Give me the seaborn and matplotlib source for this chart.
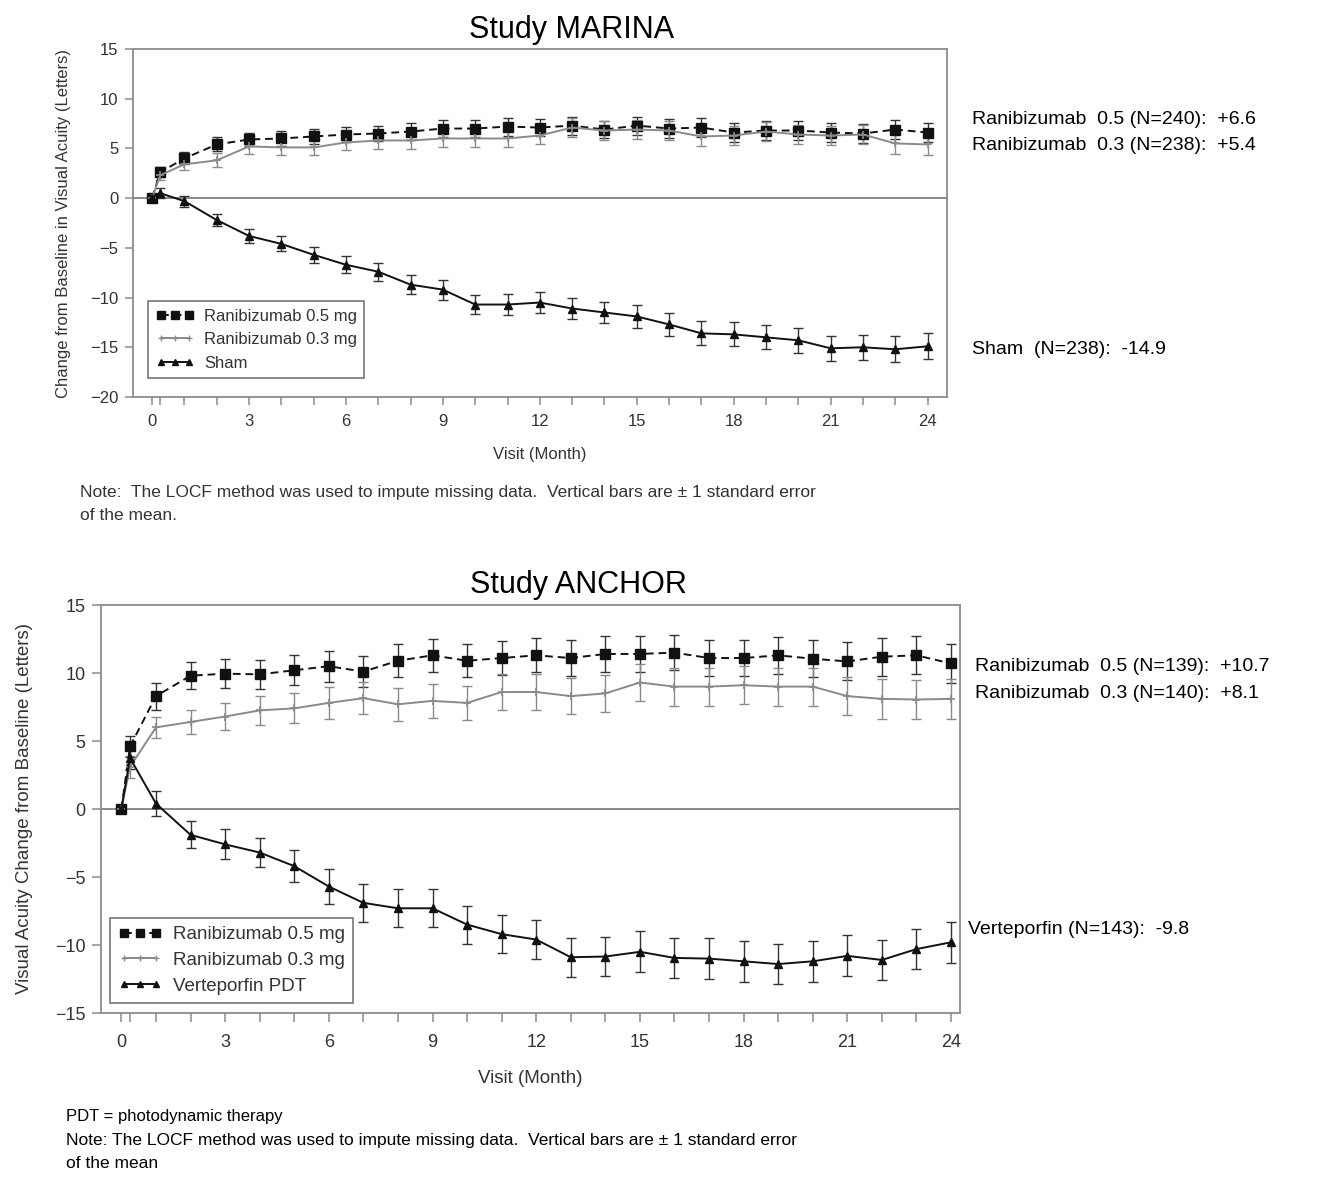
import matplotlib
matplotlib.use("Agg")
import matplotlib.pyplot as plt
import seaborn as sns
import pandas as pd
import numpy as np
from matplotlib.lines import Line2D

sns.set_style("white")
plt.rcParams['font.family'] = ['Liberation Sans', 'DejaVu Sans']

months = [0, 0.25, 1, 2, 3, 4, 5, 6, 7, 8, 9, 10, 11, 12, 13, 14, 15, 16, 17, 18, 19, 20, 21, 22, 23, 24]

# Study MARINA
marina_r05 = [0, 2.6, 4.0, 5.4, 5.9, 6.0, 6.2, 6.4, 6.5, 6.7, 7.0, 7.0, 7.2, 7.1, 7.3, 6.9, 7.3, 7.0, 7.1, 6.6, 6.8, 6.8, 6.6, 6.5, 6.9, 6.6]
marina_r05_se = [0, 0.5, 0.6, 0.7, 0.7, 0.75, 0.8, 0.8, 0.8, 0.85, 0.9, 0.9, 0.9, 0.9, 0.9, 0.9, 0.9, 0.95, 0.95, 0.95, 0.95, 1.0, 1.0, 1.0, 1.0, 1.0]
marina_r03 = [0, 2.3, 3.4, 3.8, 5.2, 5.1, 5.1, 5.6, 5.8, 5.8, 6.0, 6.0, 6.0, 6.3, 7.1, 6.8, 6.9, 6.8, 6.2, 6.3, 6.7, 6.4, 6.3, 6.4, 5.5, 5.4]
marina_r03_se = [0, 0.5, 0.6, 0.7, 0.75, 0.75, 0.8, 0.8, 0.85, 0.85, 0.9, 0.9, 0.9, 0.9, 0.95, 0.95, 0.95, 0.95, 1.0, 1.0, 1.0, 1.0, 1.0, 1.0, 1.05, 1.05]
marina_sham = [0, 0.5, -0.3, -2.2, -3.8, -4.6, -5.7, -6.7, -7.4, -8.7, -9.2, -10.7, -10.7, -10.5, -11.1, -11.5, -11.9, -12.7, -13.6, -13.7, -14.0, -14.3, -15.1, -15.0, -15.2, -14.9]
marina_sham_se = [0, 0.5, 0.55, 0.65, 0.7, 0.75, 0.8, 0.85, 0.9, 0.95, 1.0, 1.0, 1.05, 1.05, 1.1, 1.1, 1.15, 1.15, 1.2, 1.2, 1.2, 1.25, 1.25, 1.25, 1.3, 1.3]

# Study ANCHOR
anchor_r05 = [0, 4.6, 8.3, 9.8, 9.95, 9.9, 10.2, 10.5, 10.1, 10.9, 11.3, 10.9, 11.1, 11.3, 11.1, 11.4, 11.4, 11.5, 11.1, 11.1, 11.3, 11.05, 10.85, 11.2, 11.3, 10.7]
anchor_r05_se = [0, 0.8, 1.0, 1.0, 1.05, 1.05, 1.1, 1.15, 1.15, 1.2, 1.2, 1.2, 1.25, 1.25, 1.3, 1.3, 1.3, 1.3, 1.3, 1.35, 1.35, 1.35, 1.4, 1.4, 1.4, 1.4]
anchor_r03 = [0, 3.1, 6.0, 6.4, 6.8, 7.25, 7.4, 7.8, 8.15, 7.7, 7.95, 7.8, 8.6, 8.6, 8.3, 8.5, 9.3, 9.0, 9.0, 9.1, 9.0, 9.0, 8.3, 8.1, 8.05, 8.1]
anchor_r03_se = [0, 0.8, 0.8, 0.9, 1.0, 1.05, 1.1, 1.15, 1.2, 1.2, 1.25, 1.25, 1.3, 1.3, 1.35, 1.35, 1.35, 1.4, 1.4, 1.4, 1.4, 1.4, 1.4, 1.45, 1.45, 1.45]
anchor_vert = [0, 3.75, 0.4, -1.9, -2.6, -3.2, -4.2, -5.7, -6.9, -7.3, -7.3, -8.5, -9.2, -9.6, -10.9, -10.85, -10.5, -10.95, -11.0, -11.2, -11.4, -11.2, -10.8, -11.1, -10.3, -9.8]
anchor_vert_se = [0, 0.8, 0.9, 1.0, 1.1, 1.1, 1.2, 1.3, 1.4, 1.4, 1.4, 1.4, 1.4, 1.45, 1.45, 1.45, 1.5, 1.5, 1.5, 1.5, 1.5, 1.5, 1.5, 1.5, 1.5, 1.5]

marina_labels = ["Ranibizumab 0.5 mg", "Ranibizumab 0.3 mg", "Sham"]
anchor_labels = ["Ranibizumab 0.5 mg", "Ranibizumab 0.3 mg", "Verteporfin PDT"]
marina_notes = ["Ranibizumab  0.5 (N=240):  +6.6", "Ranibizumab  0.3 (N=238):  +5.4", "Sham  (N=238):  -14.9"]
anchor_notes = ["Ranibizumab  0.5 (N=139):  +10.7", "Ranibizumab  0.3 (N=140):  +8.1", "Verteporfin (N=143):  -9.8"]

W, H = 1322, 1179
fig = plt.figure(figsize=(W / 100, H / 100), dpi=100)

def px_axes(l, t, r, b):
    return fig.add_axes([l / W, 1 - b / H, (r - l) / W, (b - t) / H])

styles = [
    dict(color="#111111", ls=(0, (4, 2.5)), marker="s", ms=6.5, ecolor="#333333"),
    dict(color="#8a8a8a", ls="-", marker="+", ms=6, ecolor="#8a8a8a"),
    dict(color="#111111", ls="-", marker="^", ms=6, ecolor="#333333"),
]

def draw(ax, series, ses, labels, xmax, ylim, yticks, ylabel, title, title_xy, legend_anchor,
         fs_tick, fs_lab, fs_leg, ylabelpad, xlabelpad, ticklen, tickpad, leg_spacing):
    spine_c = "#8c8c8c"
    for s in ax.spines.values():
        s.set_color(spine_c)
        s.set_linewidth(1.3)
    ax.axhline(0, color="#777777", lw=1.2, zorder=1)
    handles = []
    for y, se, lab, st in zip(series, ses, labels, styles):
        df = pd.DataFrame({"month": months, "value": y})
        ax.errorbar(months, y, yerr=se, fmt="none", ecolor=st["ecolor"], elinewidth=1.0,
                    capsize=3.5, capthick=1.0, zorder=2)
        sns.lineplot(data=df, x="month", y="value", ax=ax, color=st["color"], lw=1.4,
                     linestyle=st["ls"], marker=st["marker"], markersize=st["ms"],
                     markeredgecolor=st["color"], markeredgewidth=1.0 if st["marker"] != "+" else 1.2,
                     zorder=3, legend=False)
        handles.append(Line2D([], [], color=st["color"], lw=1.4, linestyle=st["ls"], marker=st["marker"],
                              markersize=st["ms"] - 1.0, markeredgecolor=st["color"]))
    ax.set_xlim(-0.59, xmax)
    ax.set_ylim(*ylim)
    ax.set_xticks(months, minor=True)
    ax.set_xticks(list(range(0, 25, 3)))
    ax.set_yticks(yticks)
    ax.tick_params(axis="both", which="both", direction="out", color=spine_c, width=1.1,
                   labelcolor="#333333", labelsize=fs_tick, length=ticklen, pad=4.5,
                   left=True, bottom=True)
    ax.tick_params(axis="x", which="both", pad=tickpad)
    ax.set_xlabel("Visit (Month)", fontsize=fs_lab, color="#333333", labelpad=xlabelpad)
    ax.set_ylabel(ylabel, fontsize=fs_lab, color="#333333", labelpad=ylabelpad)
    ax.set_title(title, fontsize=22, color="black", x=title_xy[0], y=title_xy[1], va="center", pad=0)
    leg = ax.legend(handles, labels, loc="lower left", bbox_to_anchor=legend_anchor, numpoints=3,
                    fontsize=fs_leg, frameon=True, fancybox=False, edgecolor="#555555",
                    handlelength=2.3, borderpad=0.45, labelspacing=leg_spacing, handletextpad=0.6,
                    borderaxespad=0)
    leg.get_frame().set_linewidth(1.2)
    for t in leg.get_texts():
        t.set_color("#333333")

ax1 = px_axes(133, 49, 947, 397)
draw(ax1, [marina_r05, marina_r03, marina_sham], [marina_r05_se, marina_r03_se, marina_sham_se],
     marina_labels, 24.6, (-20, 15), list(range(-20, 16, 5)),
     "Change from Baseline in Visual Acuity (Letters)", "Study MARINA",
     ((572 - 133) / 814, (397 - 30) / 348), ((148 - 133) / 814, (397 - 378) / 348),
     12, 12, 12, 14, 13, 6, 6, 0.5)

ax2 = px_axes(101, 605, 960, 1013)
draw(ax2, [anchor_r05, anchor_r03, anchor_vert], [anchor_r05_se, anchor_r03_se, anchor_vert_se],
     anchor_labels, 24.26, (-15, 15), list(range(-15, 16, 5)),
     "Visual Acuity Change from Baseline (Letters)", "Study ANCHOR",
     ((578 - 101) / 859, (1013 - 585) / 408), ((110 - 101) / 859, (1013 - 1003) / 408),
     13, 13.5, 13.5, 16, 14, 6.5, 8.5, 0.45)

def ftext(x, y, s, **kw):
    fig.text(x / W, 1 - y / H, s, va="center", ha="left", **kw)

ftext(972, 119, marina_notes[0], fontsize=14, color="black")
ftext(972, 146, marina_notes[1], fontsize=14, color="black")
ftext(972, 350, marina_notes[2], fontsize=14, color="black")
ftext(975, 666, anchor_notes[0], fontsize=14, color="black")
ftext(975, 693, anchor_notes[1], fontsize=14, color="black")
ftext(968, 930, anchor_notes[2], fontsize=14, color="black")

ftext(80, 492, "Note:  The LOCF method was used to impute missing data.  Vertical bars are \u00b1 1 standard error",
      fontsize=12.5, color="#333333")
ftext(80, 515, "of the mean.", fontsize=12.5, color="#333333")

ftext(66, 1117, "PDT = photodynamic therapy", fontsize=12, color="black")
ftext(66, 1140, "Note: The LOCF method was used to impute missing data.  Vertical bars are \u00b1 1 standard error",
      fontsize=12.5, color="black")
ftext(66, 1163, "of the mean", fontsize=12.5, color="black")

fig.savefig("out.png", dpi=100)
